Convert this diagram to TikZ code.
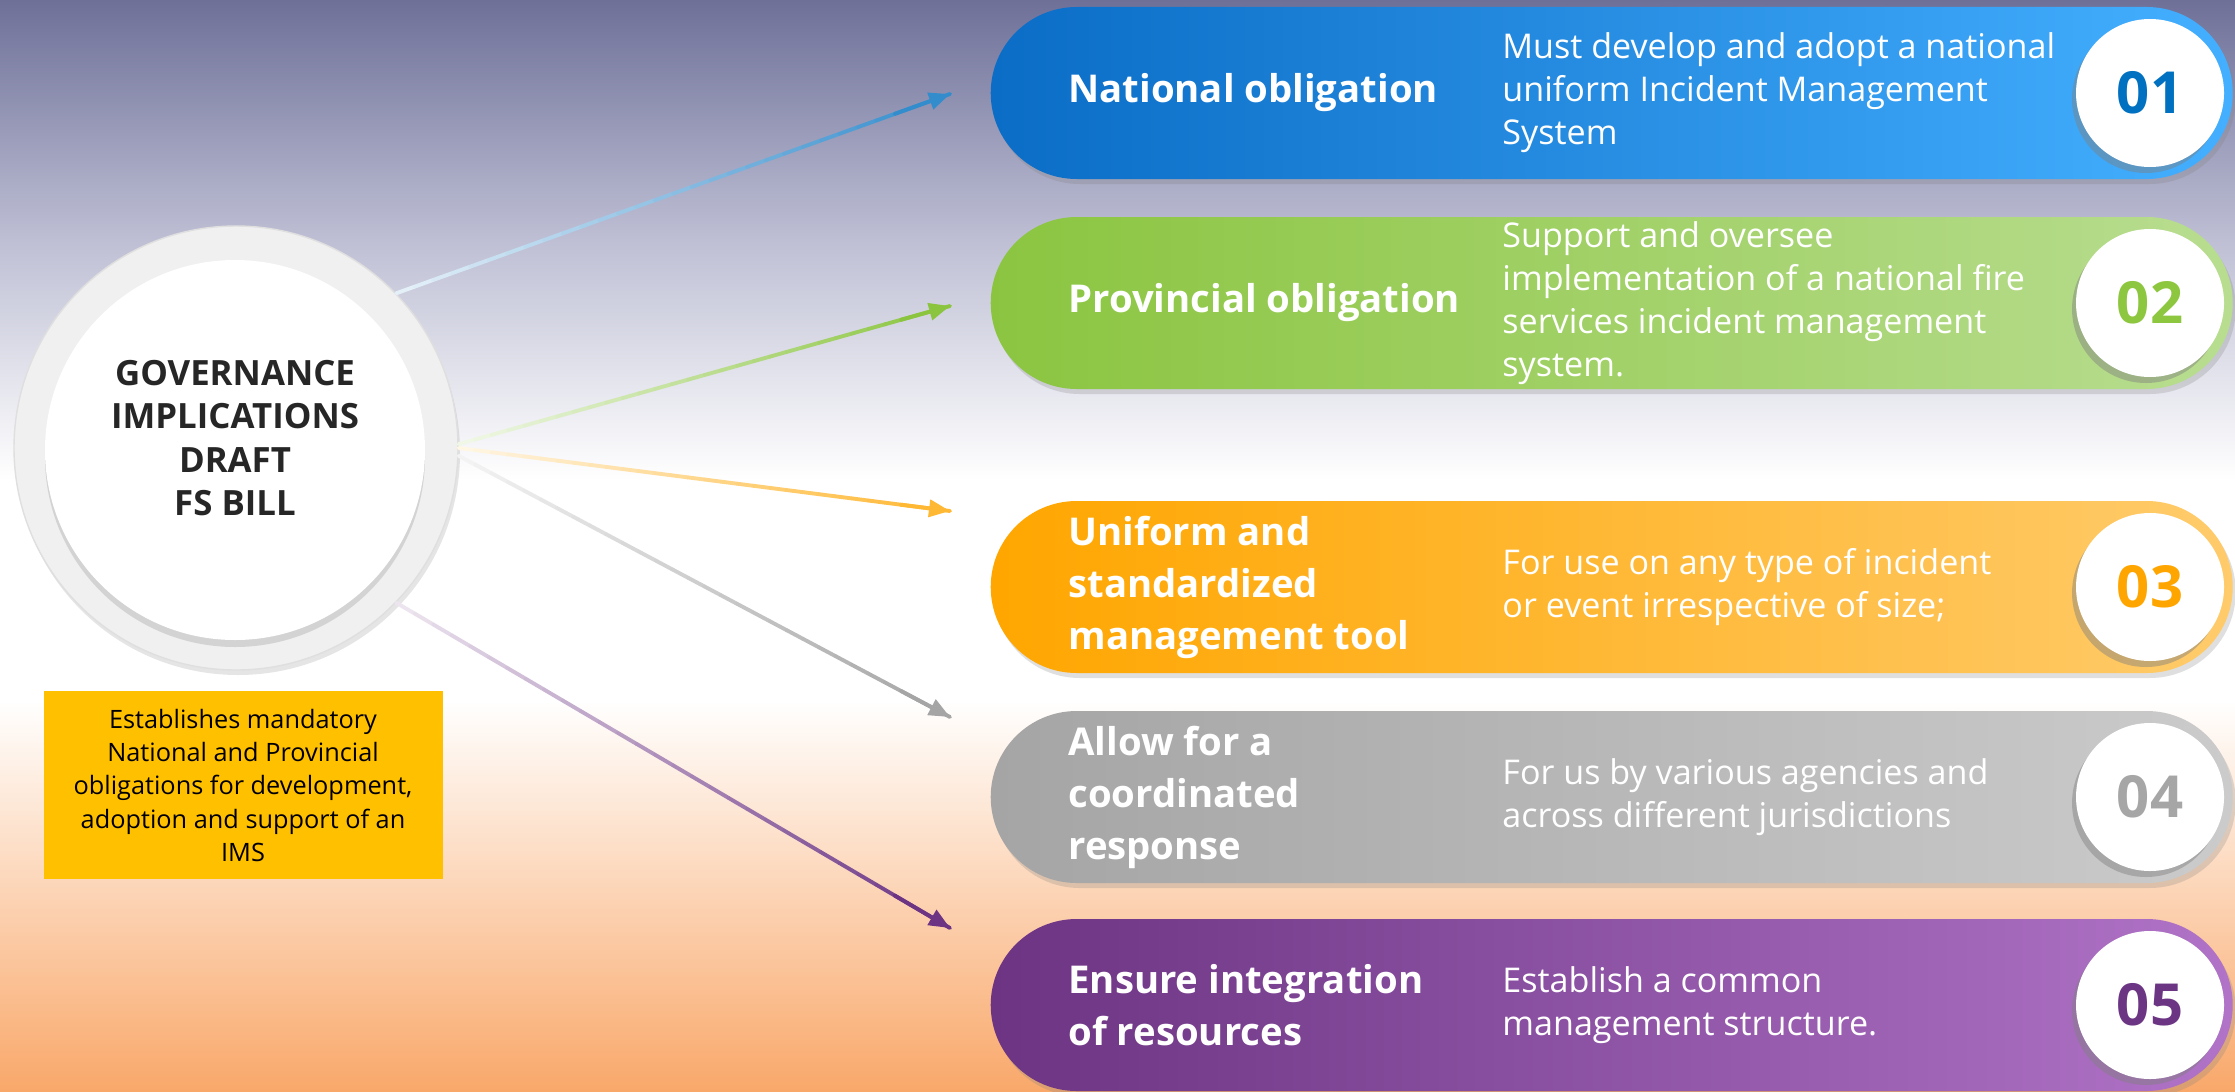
\documentclass[tikz,border=0pt]{standalone}
\usepackage{fontspec}
\setmainfont{Open Sans}
\usepackage{tikz}
\usetikzlibrary{positioning, arrows.meta, shadows, calc}
\definecolor{bgtop}{RGB}{110,112,152}
\definecolor{bgmid}{RGB}{190,191,212}
\definecolor{bgbot}{RGB}{249,168,106}
\definecolor{natdark}{RGB}{11,109,198}
\definecolor{natlight}{RGB}{68,175,255}
\definecolor{natnum}{RGB}{0,112,192}
\definecolor{prodark}{RGB}{139,197,64}
\definecolor{prolight}{RGB}{184,221,144}
\definecolor{pronum}{RGB}{141,198,63}
\definecolor{unidark}{RGB}{255,166,0}
\definecolor{unilight}{RGB}{255,203,107}
\definecolor{uninum}{RGB}{255,165,0}
\definecolor{cordark}{RGB}{165,165,165}
\definecolor{corlight}{RGB}{203,203,203}
\definecolor{cornum}{RGB}{166,166,166}
\definecolor{intdark}{RGB}{108,52,131}
\definecolor{intlight}{RGB}{176,115,199}
\definecolor{intnum}{RGB}{107,53,132}
\definecolor{notebox}{RGB}{255,192,0}
\definecolor{ringgray}{RGB}{240,240,240}
\tikzset{
    pill/.style={rectangle, rounded corners=0.86cm, minimum width=12.42cm, minimum height=1.72cm, anchor=west, drop shadow={shadow xshift=0.03cm, shadow yshift=-0.05cm, opacity=0.25}},
    headline/.style={anchor=west, text=white, align=left, font=\bfseries\fontsize{10.9}{14.8}\selectfont},
    desc/.style={anchor=west, text=white, align=left, font=\fontsize{9.7}{12.2}\selectfont},
    badge/.style={circle, fill=white, minimum size=1.48cm, inner sep=0pt, font=\bfseries\fontsize{16.5}{16.5}\selectfont, drop shadow={shadow xshift=-0.04cm, shadow yshift=-0.06cm, opacity=0.45}},
    flow/.style={line width=1.1pt, line cap=round}
}
\newcommand{\fadeline}[3]{%
  \foreach \k in {1,...,30}{%
    \pgfmathsetmacro{\fadeA}{(\k-1)/30}%
    \pgfmathsetmacro{\fadeB}{\k/30}%
    \pgfmathtruncatemacro{\fadeC}{10+\k*3}%
    \draw[flow, #3!\fadeC!white] ($(#1)!\fadeA!(#2)$) -- ($(#1)!\fadeB!(#2)$);
  }%
  \draw[flow, #3, -{Triangle[length=0.21cm, width=0.17cm]}] ($(#1)!0.9!(#2)$) -- (#2);
}
\begin{document}
\begin{tikzpicture}
    \useasboundingbox (0,0) rectangle (22.35,-10.91);
    % Background
    \fill[top color=bgtop, bottom color=white, middle color=bgmid] (0,0) rectangle (22.35,-4.8);
    \fill[white] (0,-4.8) rectangle (22.35,-7.0);
    \fill[top color=white, bottom color=bgbot] (0,-7.0) rectangle (22.35,-10.91);

    % Central circle
    \node[circle, fill=ringgray, draw=gray!25, minimum size=4.44cm, drop shadow={shadow xshift=0.02cm, shadow yshift=-0.05cm, opacity=0.2}] (gov) at (2.36,-4.48) {};
    \node[circle, fill=white, minimum size=3.80cm, drop shadow={shadow xshift=0cm, shadow yshift=-0.07cm, opacity=0.25}] (core) at (2.35,-4.50) {};
    \node[align=center, text=black!85, font=\bfseries\fontsize{9.9}{12.3}\selectfont] (label) at (2.35,-4.38) {GOVERNANCE\\IMPLICATIONS\\DRAFT\\FS BILL};

    % Note box
    \node[fill=notebox, minimum width=3.99cm, minimum height=1.88cm, align=center, font=\fontsize{7.2}{9.5}\selectfont, below=0.2cm of gov, xshift=0.07cm] (note) {Establishes mandatory\\National and Provincial\\obligations for development,\\adoption and support of an\\IMS};

    % Pills
    \node[pill, left color=natdark, right color=natlight] (p1) at (9.90,-0.93) {};
    \node[pill, left color=prodark, right color=prolight] (p2) at (9.90,-3.03) {};
    \node[pill, left color=unidark, right color=unilight] (p3) at (9.90,-5.87) {};
    \node[pill, left color=cordark, right color=corlight] (p4) at (9.90,-7.97) {};
    \node[pill, left color=intdark, right color=intlight] (p5) at (9.90,-10.05) {};

    % Headlines
    \node[headline] (h1) at ([xshift=0.66cm]p1.west) {National obligation};
    \node[headline] (h2) at ([xshift=0.66cm]p2.west) {Provincial obligation};
    \node[headline] (h3) at ([xshift=0.66cm]p3.west) {Uniform and\\standardized\\management tool};
    \node[headline] (h4) at ([xshift=0.66cm]p4.west) {Allow for a\\coordinated\\response};
    \node[headline] (h5) at ([xshift=0.66cm]p5.west) {Ensure integration\\of resources};

    % Descriptions
    \node[desc] (d1) at ([xshift=5.00cm]p1.west) {Must develop and adopt a national\\uniform Incident Management\\System};
    \node[desc] (d2) at ([xshift=5.00cm]p2.west) {Support and oversee\\implementation of a national fire\\services incident management\\system.};
    \node[desc] (d3) at ([xshift=5.00cm]p3.west) {For use on any type of incident\\or event irrespective of size;};
    \node[desc] (d4) at ([xshift=5.00cm]p4.west) {For us by various agencies and\\across different jurisdictions};
    \node[desc] (d5) at ([xshift=5.00cm]p5.west) {Establish a common\\management structure.};

    % Badges
    \node[badge, text=natnum] (n1) at ([xshift=11.60cm]p1.west) {01};
    \node[badge, text=pronum] (n2) at ([xshift=11.60cm]p2.west) {02};
    \node[badge, text=uninum] (n3) at ([xshift=11.60cm]p3.west) {03};
    \node[badge, text=cornum] (n4) at ([xshift=11.60cm]p4.west) {04};
    \node[badge, text=intnum] (n5) at ([xshift=11.60cm]p5.west) {05};

    % Arrows
    \coordinate (tip1) at (9.50,-0.94);
    \coordinate (tip2) at (9.50,-3.06);
    \coordinate (tip3) at (9.50,-5.11);
    \coordinate (tip4) at (9.50,-7.17);
    \coordinate (tip5) at (9.50,-9.28);
    \fadeline{gov.44}{tip1}{natnum!80!white}
    \fadeline{gov.1}{tip2}{prodark}
    \fadeline{gov.-0.5}{tip3}{unidark!80!white}
    \fadeline{gov.-2}{tip4}{cordark}
    \fadeline{gov.-44}{tip5}{intdark}
\end{tikzpicture}
\end{document}
